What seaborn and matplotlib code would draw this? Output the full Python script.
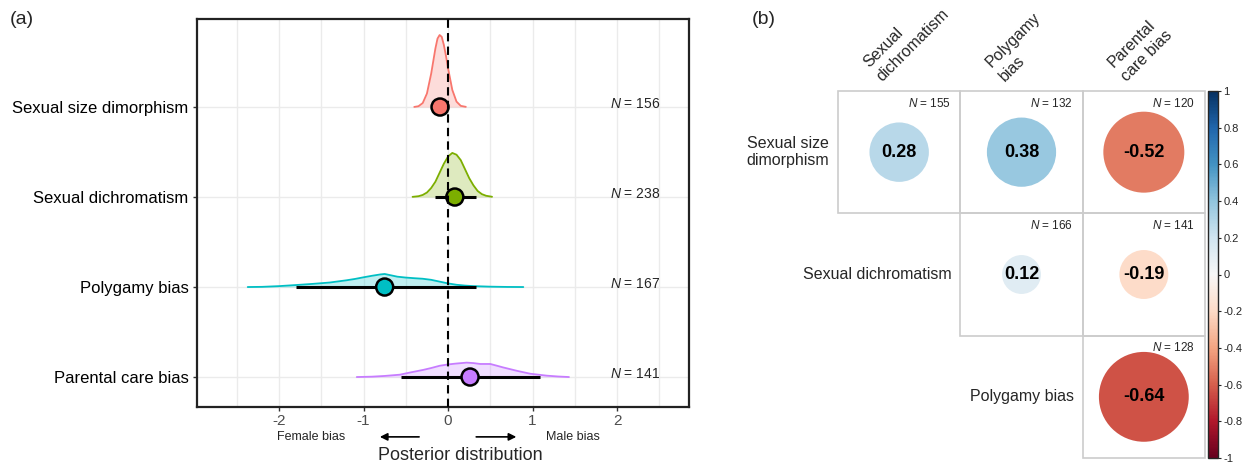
import numpy as np
import matplotlib
matplotlib.use("Agg")
import matplotlib.pyplot as plt
import seaborn as sns
from matplotlib.patches import Circle, Rectangle
from matplotlib.colors import Normalize
from matplotlib.cm import ScalarMappable

# ---- panel (a): posterior distributions ----
traits = ["Sexual size dimorphism", "Sexual dichromatism", "Polygamy bias", "Parental care bias"]
trait_colors = ["#F8766D", "#7CAE00", "#00BFC4", "#C77CFF"]
trait_n = [156, 238, 167, 141]
point_est = [-0.095, 0.08, -0.75, 0.26]
ci_low = [-0.17, -0.16, -1.80, -0.56]
ci_high = [-0.02, 0.33, 0.33, 1.09]

# density outlines (height in row units)
ssd_x = [-0.40, -0.35, -0.30, -0.25, -0.20, -0.15, -0.125, -0.10, -0.075, -0.05, -0.025,
         0.0, 0.05, 0.10, 0.15, 0.21]
ssd_h = [0.001, 0.009, 0.044, 0.15, 0.37, 0.65, 0.76, 0.80, 0.78, 0.69, 0.57,
         0.43, 0.19, 0.06, 0.013, 0.002]
sd_x = [-0.42, -0.35, -0.30, -0.25, -0.20, -0.15, -0.10, -0.05, 0.0, 0.05, 0.10,
        0.15, 0.20, 0.25, 0.30, 0.35, 0.40, 0.45, 0.52]
sd_h = [0.002, 0.009, 0.023, 0.05, 0.10, 0.17, 0.27, 0.37, 0.45, 0.49, 0.47,
        0.41, 0.31, 0.21, 0.13, 0.067, 0.032, 0.014, 0.003]
pb_x = [-2.37, -2.2, -2.0, -1.8, -1.6, -1.4, -1.2, -1.1, -1.0, -0.9, -0.8, -0.75,
        -0.7, -0.6, -0.5, -0.4, -0.3, -0.2, -0.1, 0.0, 0.1, 0.2, 0.3, 0.5, 0.7, 0.89]
pb_h = [0.0, 0.002, 0.01, 0.022, 0.035, 0.05, 0.075, 0.09, 0.108, 0.125, 0.14, 0.145,
        0.135, 0.115, 0.105, 0.098, 0.092, 0.08, 0.06, 0.04, 0.025, 0.016, 0.01, 0.004, 0.001, 0.0]
pc_x = [-1.08, -0.9, -0.75, -0.57, -0.45, -0.29, -0.2, -0.1, 0.0, 0.1, 0.22, 0.3,
        0.38, 0.5, 0.58, 0.65, 0.81, 0.97, 1.17, 1.3, 1.43]
pc_h = [0.0, 0.004, 0.012, 0.026, 0.05, 0.08, 0.10, 0.125, 0.14, 0.15, 0.16, 0.155,
        0.145, 0.145, 0.125, 0.107, 0.07, 0.037, 0.015, 0.006, 0.0]
dens_x = [ssd_x, sd_x, pb_x, pc_x]
dens_h = [ssd_h, sd_h, pb_h, pc_h]

# ---- panel (b): correlations ----
corr_rows = ["Sexual size\ndimorphism", "Sexual dichromatism", "Polygamy bias"]
corr_cols = [["Sexual", "dichromatism"], ["Polygamy", "bias"], ["Parental", "care bias"]]
corr_vals = [[0.28, 0.38, -0.52], [None, 0.12, -0.19], [None, None, -0.64]]
corr_n = [[155, 132, 120], [None, 166, 141], [None, None, 128]]
cbar_ticks = [1, 0.8, 0.6, 0.4, 0.2, 0, -0.2, -0.4, -0.6, -0.8, -1]

sns.set_theme(style="white")
plt.rcParams["font.family"] = ["Liberation Sans", "DejaVu Sans"]
plt.rcParams["mathtext.fontset"] = "custom"
plt.rcParams["mathtext.it"] = "Liberation Sans:italic"
plt.rcParams["mathtext.rm"] = "Liberation Sans"

W, H = 1245, 466
fig = plt.figure(figsize=(W / 100, H / 100), dpi=100)


def fig_rect(x0, y0, x1, y1):
    return [x0 / W, (H - y1) / H, (x1 - x0) / W, (y1 - y0) / H]


ax = fig.add_axes(fig_rect(197, 19, 689, 407))
rows_y = [3, 2, 1, 0]

for xv in np.arange(-2.5, 2.51, 0.5):
    ax.axvline(xv, color="#ebebeb", lw=1, zorder=0)
for yv in rows_y:
    ax.axhline(yv, color="#ebebeb", lw=1, zorder=0)

for i, name in enumerate(traits):
    base = rows_y[i]
    xs = np.array(dens_x[i])
    ys = base + np.array(dens_h[i])
    ax.fill_between(xs, base, ys, color=trait_colors[i], alpha=0.25, lw=0, zorder=2)
    sns.lineplot(x=xs, y=ys, ax=ax, color=trait_colors[i], lw=1.3, sort=False,
                 estimator=None, zorder=3)
    ax.plot([ci_low[i], ci_high[i]], [base, base], color="black", lw=2.2,
            solid_capstyle="butt", zorder=4)
    ax.text(2.21, base + 0.03, rf"$N$ = {trait_n[i]}", ha="center", va="center",
            fontsize=10)

sns.scatterplot(x=point_est, y=rows_y, hue=traits, palette=trait_colors, ax=ax,
                s=150, edgecolor="black", linewidth=1.8, zorder=5, legend=False)
ax.axvline(0, color="black", lw=1.5, ls=(0, (4, 2.5)), zorder=6)

ax.set_xlim(-2.97, 2.85)
ax.set_ylim(-0.333, 3.978)
ax.set_xticks([-2, -1, 0, 1, 2])
ax.set_xticklabels(["-2", "-1", "0", "1", "2"])
ax.set_yticks(rows_y)
ax.set_yticklabels(traits)
ax.tick_params(axis="x", length=3, width=1, color="#333333", labelsize=11,
               labelcolor="#4d4d4d", pad=2, bottom=True)
ax.tick_params(axis="y", length=3, width=1, color="#333333", labelsize=12,
               labelcolor="black", pad=3, left=True)
for sp in ax.spines.values():
    sp.set_color("#222222")
    sp.set_linewidth(1.6)
ax.set_xlabel("")
ax.set_ylabel("")

ax.text(-1.62, -0.077, "Female bias", transform=ax.get_xaxis_transform(),
        ha="center", va="center", fontsize=9)
ax.text(1.48, -0.077, "Male bias", transform=ax.get_xaxis_transform(),
        ha="center", va="center", fontsize=9)
ax.annotate("", xy=(-0.84, -0.077), xytext=(-0.31, -0.077),
            xycoords=ax.get_xaxis_transform(), textcoords=ax.get_xaxis_transform(),
            arrowprops=dict(arrowstyle="-|>", color="black", lw=1.2, mutation_scale=11))
ax.annotate("", xy=(0.84, -0.077), xytext=(0.30, -0.077),
            xycoords=ax.get_xaxis_transform(), textcoords=ax.get_xaxis_transform(),
            arrowprops=dict(arrowstyle="-|>", color="black", lw=1.2, mutation_scale=11))
ax.text(0.15, -0.126, "Posterior distribution", transform=ax.get_xaxis_transform(),
        ha="center", va="center", fontsize=13)

fig.text(10 / W, 1 - 20 / H, "(a)", ha="left", va="center", fontsize=14)
fig.text(752 / W, 1 - 20 / H, "(b)", ha="left", va="center", fontsize=14)

# ---- panel (b) ----
dx = -6  # small shift so the colour bar labels stay inside the figure
bx = fig.add_axes(fig_rect(844 + dx, 91, 1211 + dx, 458))
bx.set_xlim(0, 3)
bx.set_ylim(3, 0)
bx.set_aspect("equal")
bx.axis("off")
cmap = plt.get_cmap("RdBu")
norm = Normalize(-1, 1)

for i in range(3):
    for j in range(i, 3):
        r = corr_vals[i][j]
        bx.add_patch(Rectangle((j, i), 1, 1, fill=False, edgecolor="#cccccc", lw=1.2,
                               clip_on=False))
        bx.add_patch(Circle((j + 0.5, i + 0.5), 0.459 * np.sqrt(abs(r)),
                            facecolor=cmap(norm(r)), edgecolor="none"))
        bx.text(j + 0.5, i + 0.5, f"{r:.2f}", ha="center", va="center",
                fontsize=13, fontweight="bold", color="black")
        bx.text(j + 0.92, i + 0.1, rf"$N$ = {corr_n[i][j]}", ha="right", va="center",
                fontsize=8.5)
    bx.text(i - 0.07, i + 0.5, corr_rows[i], ha="right", va="center", fontsize=11.5,
            multialignment="left")

# rotated column labels, one text per line
for j, lines in enumerate(corr_cols):
    top, bottom = lines
    bx.text(j + 0.365, -0.075, bottom, ha="left", va="baseline", rotation=45,
            rotation_mode="anchor", fontsize=11.5, clip_on=False)
    bx.text(j + 0.365 - 0.11, -0.075 - 0.11, top, ha="left", va="baseline", rotation=45,
            rotation_mode="anchor", fontsize=11.5, clip_on=False)

cax = fig.add_axes(fig_rect(1214 + dx, 91, 1224 + dx, 458))
cb = fig.colorbar(ScalarMappable(norm=norm, cmap=cmap), cax=cax, ticks=cbar_ticks)
cb.ax.set_yticklabels([str(t) for t in cbar_ticks])
cb.ax.tick_params(length=2.5, width=0.8, labelsize=8, pad=1.5)
cb.outline.set_linewidth(1)

fig.savefig("out.png", dpi=100)
